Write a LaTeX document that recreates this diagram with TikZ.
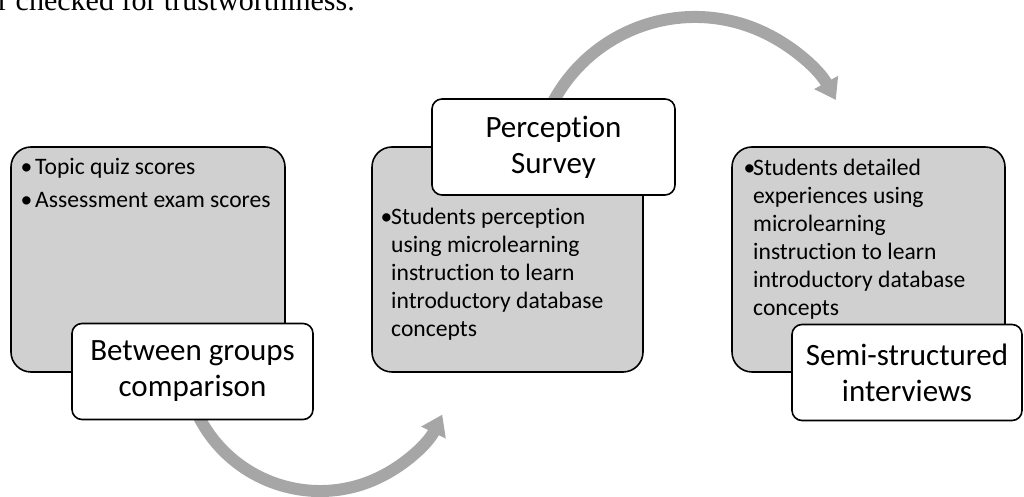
\documentclass[tikz,border=0pt]{standalone}
\usepackage{fontspec}
\setmainfont{Carlito}[Ligatures=NoCommon]
\newfontfamily\timesfont{Liberation Serif}
\usepackage{xcolor}
\usepackage{tikz}
\usetikzlibrary{arrows.meta}
\definecolor{boxgray}{RGB}{208,208,208}
\definecolor{arrowgray}{RGB}{166,166,166}
\newcommand\bitem[2][8pt]{\par\noindent\hangindent=#1\hangafter=1\makebox[#1][l]{\textbullet}#2\par}

\begin{document}
\begin{tikzpicture}[x=1pt,y=1pt,
  panel/.style={draw=black, line width=1.6pt, fill=boxgray, rounded corners=20pt,
    minimum width=#1, minimum height=225pt, inner sep=0pt},
  stage/.style={draw=black, line width=1.6pt, fill=white, rounded corners=10pt,
    align=center, inner sep=0pt, minimum width=#1, minimum height=96pt,
    font=\fontsize{31}{36}\selectfont},
  bullets/.style={anchor=base west, inner sep=0pt, font=\fontsize{23.6}{28}\selectfont},
  cyclearrow/.style={draw=arrowgray, line width=12pt, -{Triangle[width=26pt,length=20pt]}}]
  \useasboundingbox (0,0) rectangle (1024,497);

  % text running in from the page above
  \node[font=\timesfont\fontsize{30}{36}\selectfont, anchor=base east, inner sep=0pt]
    (prevline) at (355,486) {r checked for trustworthiness.};

  % grey panels
  \node[panel=274pt] (quizpanel) at (148,237.5) {};
  \node[panel=271pt] (surveypanel) at (507.5,237.5) {};
  \node[panel=273pt] (interviewpanel) at (868.5,237.5) {};

  \node[bullets] (quiznotes) at (20.5,322) {\parbox[t]{262pt}{%
    \bitem[14.5pt]{Topic quiz scores}\vspace{5pt}\bitem[14.5pt]{Assessment exam scores}}};
  \node[bullets] (surveynotes) at (380.5,272) {\parbox[t]{262pt}{%
    \bitem[10.5pt]{Students perception\newline using microlearning\newline instruction to learn\newline introductory database\newline concepts}}};
  \node[bullets] (interviewnotes) at (743.5,321) {\parbox[t]{262pt}{%
    \bitem[9.5pt]{Students detailed\newline experiences using\newline microlearning\newline instruction to learn\newline introductory database\newline concepts}}};

  % curved arrows
  \coordinate (lowbend) at (320,142);
  \coordinate (highbend) at (695,319);
  \draw[cyclearrow] ([shift={(205:136)}]lowbend) arc[start angle=205, end angle=334, radius=136];
  \draw[cyclearrow] ([shift={(155:161)}]highbend) arc[start angle=155, end angle=29, radius=161];

  % stage titles
  \node[stage=241pt] (groups) at (192.5,125.5) {Between groups\\comparison};
  \node[stage=243pt] (survey) at (553.5,350) {Perception\\Survey};
  \node[stage=230pt] (interviews) at (907,124.5) {Semi-structured\\interviews};
\end{tikzpicture}
\end{document}
